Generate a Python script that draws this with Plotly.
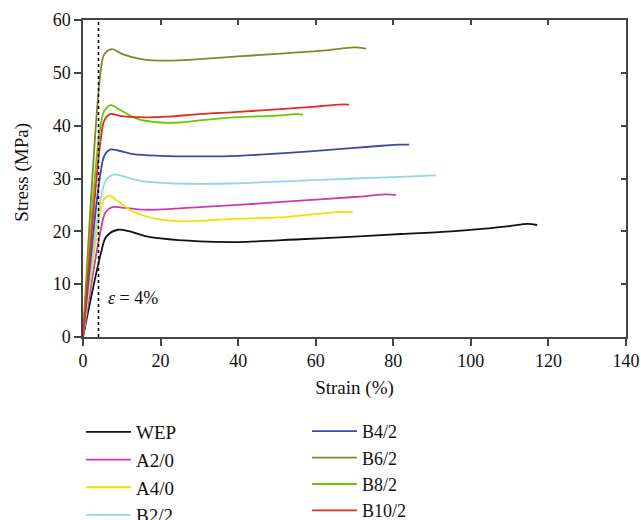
import plotly.graph_objects as go

# Strain (%) and stress (MPa)
wep_x = [0, 4.5, 6, 9, 12, 16, 20, 30, 40, 56, 70, 82, 95, 103.5, 110, 114.7, 117.1]
wep_y = [0, 15.5, 19, 20.3, 20.0, 19.1, 18.65, 18.1, 17.97, 18.5, 19.0, 19.5, 20.0, 20.5, 21.0, 21.4, 21.2]

a20_x = [0, 4.5, 5.8, 7.5, 10, 15.7, 22, 30, 40, 56, 70, 78.5, 80.7]
a20_y = [0, 20, 23.6, 24.6, 24.5, 24.1, 24.2, 24.6, 25.0, 25.8, 26.5, 27.0, 26.85]

a40_x = [0, 4.3, 5.3, 6.9, 9, 13, 20, 25, 30, 40, 52, 62, 67, 69.5]
a40_y = [0, 23, 26, 26.7, 25.7, 23.7, 22.2, 21.9, 22.0, 22.4, 22.7, 23.4, 23.7, 23.6]

b22_x = [0, 4.5, 6, 7.9, 10, 15, 22, 30, 40, 56, 70, 85, 91]
b22_y = [0, 26, 29.8, 30.75, 30.5, 29.5, 29.1, 29.0, 29.1, 29.6, 30.0, 30.4, 30.6]

b42_x = [0, 4.3, 5.5, 7.1, 9, 13, 20, 30, 40, 52, 65, 77, 82, 84.1]
b42_y = [0, 30, 34.3, 35.5, 35.3, 34.6, 34.3, 34.2, 34.3, 34.8, 35.5, 36.2, 36.4, 36.4]

b62_x = [0, 4.5, 5.5, 7.5, 10, 15, 22, 30, 40, 52, 62, 70, 73]
b62_y = [0, 50, 53.5, 54.5, 53.6, 52.6, 52.3, 52.6, 53.1, 53.7, 54.2, 54.8, 54.6]

b82_x = [0, 4.3, 5.5, 7.2, 9.5, 14, 20, 25, 30, 40, 50, 55, 56.7]
b82_y = [0, 39, 42.8, 43.9, 43.0, 41.3, 40.6, 40.6, 41.0, 41.6, 41.9, 42.2, 42.1]

b102_x = [0, 4.5, 5.5, 7, 10, 14, 22, 30, 40, 50, 60, 66, 68.6]
b102_y = [0, 37, 41, 42.2, 41.8, 41.6, 41.7, 42.2, 42.6, 43.1, 43.6, 44.0, 44.0]

names = ["WEP", "A2/0", "A4/0", "B2/2", "B4/2", "B6/2", "B8/2", "B10/2"]
xs = [wep_x, a20_x, a40_x, b22_x, b42_x, b62_x, b82_x, b102_x]
ys = [wep_y, a20_y, a40_y, b22_y, b42_y, b62_y, b82_y, b102_y]
colors = ["#111111", "#c63cb0", "#f2df00", "#8fd9e6", "#3d47a8", "#85852a", "#66c800", "#e52a1e"]

x_ticks = [0, 20, 40, 60, 80, 100, 120, 140]
y_ticks = [0, 10, 20, 30, 40, 50, 60]
eps_strain = 4

FONT = "Liberation Serif"

fig = go.Figure()
for i, (n, x, y, c) in enumerate(zip(names, xs, ys, colors)):
    fig.add_trace(go.Scatter(
        x=x, y=y, mode="lines", name=n,
        line=dict(color=c, width=1.8, shape="spline", smoothing=0.9),
        legend="legend" if i < 4 else "legend2",
    ))

# invisible trace to draw mirrored inner-tick axes
fig.add_trace(go.Scatter(x=[0], y=[0], xaxis="x2", yaxis="y2", mode="markers",
                         marker=dict(opacity=0), showlegend=False, hoverinfo="skip"))

fig.add_shape(type="line", x0=eps_strain, x1=eps_strain, y0=0, y1=60,
              xref="x", yref="y", line=dict(color="black", width=1.5, dash="dot"))

fig.add_annotation(x=6.0, y=7.4, xref="x", yref="y", text="<i>ε</i> = 4%",
                   showarrow=False, xanchor="left", yanchor="middle",
                   font=dict(family=FONT, size=18, color="#111"))

# y-axis title
fig.add_annotation(x=-0.112, y=0.519, xref="paper", yref="paper", text="Stress (MPa)",
                   textangle=-90, showarrow=False, xanchor="center", yanchor="middle",
                   font=dict(family=FONT, size=19, color="#111"))

axis_common = dict(showgrid=False, zeroline=False, showline=True, linecolor="#444",
                   linewidth=1.5, ticks="outside", ticklen=7, tickwidth=1.5, tickcolor="#444",
                   tickfont=dict(family=FONT, size=18, color="#111"))

fig.update_layout(
    width=641, height=520,
    margin=dict(l=83, r=15, t=20, b=183, autoexpand=False),
    plot_bgcolor="white", paper_bgcolor="white",
    xaxis=dict(range=[0, 140], tickvals=x_ticks,
               title=dict(text="Strain (%)", font=dict(family=FONT, size=19, color="#111"), standoff=10),
               **axis_common),
    yaxis=dict(range=[0, 60], tickvals=y_ticks, **axis_common),
    xaxis2=dict(overlaying="x", side="top", matches="x", range=[0, 140], tickvals=x_ticks,
                showticklabels=False, ticks="inside", ticklen=5, tickwidth=1.5, tickcolor="#444",
                showline=True, linecolor="#444", linewidth=1.5, showgrid=False, zeroline=False),
    yaxis2=dict(overlaying="y", side="right", matches="y", range=[0, 60], tickvals=y_ticks,
                showticklabels=False, ticks="inside", ticklen=5, tickwidth=1.5, tickcolor="#444",
                showline=True, linecolor="#444", linewidth=1.5, showgrid=False, zeroline=False),
    legend=dict(xref="container", yref="container", x=81 / 641, y=1 - 413 / 520,
                xanchor="left", yanchor="top", bgcolor="rgba(0,0,0,0)", itemwidth=45,
                font=dict(family=FONT, size=19, color="#111"), tracegroupgap=0),
    legend2=dict(xref="container", yref="container", x=307 / 641, y=1 - 413 / 520,
                 xanchor="left", yanchor="top", bgcolor="rgba(0,0,0,0)", itemwidth=45,
                 font=dict(family=FONT, size=18, color="#111"), tracegroupgap=0),
)

fig.write_html("out.html")
